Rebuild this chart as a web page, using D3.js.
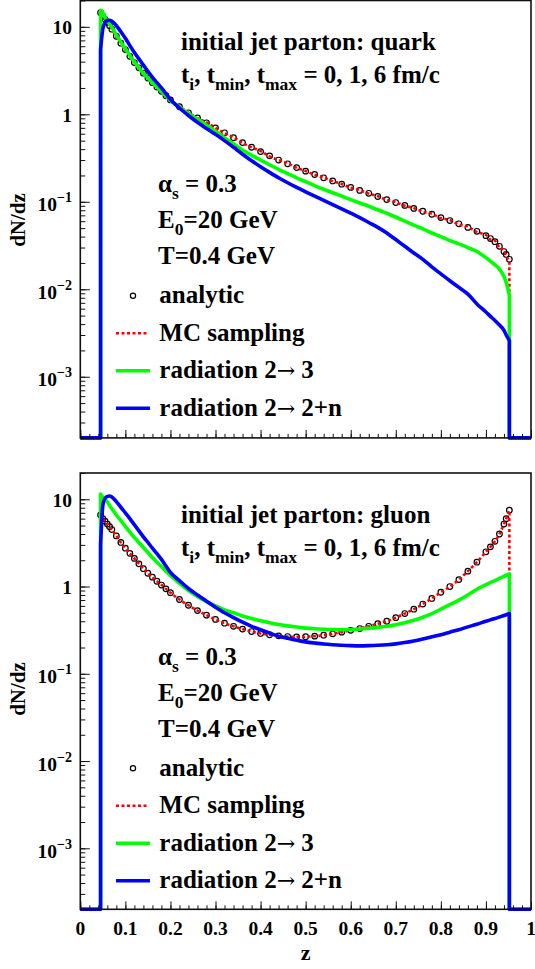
<!DOCTYPE html>
<html><head><meta charset="utf-8">
<script src="https://cdn.jsdelivr.net/npm/d3@7"></script>
<style>
body{margin:0;background:#fff}
svg{display:block}
text{font-family:"Liberation Serif","Times New Roman",serif;font-weight:bold;fill:#000}
</style>
</head><body>
<svg id="c" width="535" height="969"></svg>
<script>
// ---------------- data ----------------
const zGrid = [0.045,0.05,0.055,0.06,0.065,0.07,0.08,0.09,0.10,0.11,0.12,0.13,0.14,0.15,0.16,0.17,0.18,0.19,0.20,
  0.22,0.24,0.26,0.28,0.30,0.32,0.34,0.36,0.38,0.40,0.42,0.44,0.46,0.48,0.50,0.52,0.54,0.56,0.58,0.60,
  0.62,0.64,0.66,0.68,0.70,0.72,0.74,0.76,0.78,0.80,0.82,0.84,0.86,0.88,0.90,0.91,0.92,0.93,0.94,0.945,0.952];

const quarkAnalytic = [14.5,13.2,12.2,11.3,10.3,9.4,7.8,6.5,5.5,4.6,3.9,3.4,2.95,2.6,2.3,2.05,1.83,1.63,1.46,
  1.22,1.04,0.91,0.80,0.70,0.615,0.54,0.475,0.42,0.375,0.335,0.30,0.272,0.246,0.224,0.205,0.188,0.173,0.159,0.146,
  0.135,0.125,0.115,0.106,0.098,0.091,0.084,0.078,0.072,0.066,0.061,0.056,0.051,0.046,0.041,0.038,0.035,0.031,0.027,0.025,0.022];
const quarkMC = [14.4,13.3,12.1,11.4,10.2,9.5,7.7,6.6,5.4,4.7,3.9,3.4,2.9,2.6,2.3,2.05,1.82,1.64,1.45,
  1.23,1.04,0.90,0.81,0.70,0.61,0.545,0.47,0.42,0.38,0.33,0.30,0.275,0.245,0.225,0.204,0.19,0.172,0.16,0.145,
  0.136,0.124,0.116,0.105,0.099,0.090,0.085,0.077,0.073,0.065,0.062,0.055,0.052,0.045,0.042,0.037,0.036,0.030,0.028,0.024,0.021];
const quarkRad23 = [15.5,14.5,12.8,11.8,10.8,9.9,8.1,6.7,5.6,4.7,4.0,3.4,2.95,2.6,2.3,2.05,1.82,1.62,1.44,
  1.2,1.02,0.88,0.75,0.64,0.54,0.46,0.39,0.34,0.30,0.265,0.235,0.21,0.188,0.17,0.153,0.139,0.127,0.116,0.106,
  0.097,0.089,0.081,0.074,0.067,0.060,0.054,0.049,0.044,0.040,0.036,0.033,0.030,0.027,0.023,0.021,0.019,0.017,0.014,0.012,0.0085];
const quarkRad2n = [5.5,9.5,11.2,11.8,11.9,11.6,10.3,8.8,7.4,6.1,5.1,4.3,3.65,3.1,2.65,2.3,2.0,1.72,1.48,
  1.18,0.97,0.81,0.69,0.59,0.50,0.42,0.35,0.295,0.252,0.217,0.188,0.165,0.146,0.13,0.116,0.104,0.093,0.083,0.074,
  0.066,0.058,0.051,0.044,0.037,0.031,0.026,0.022,0.018,0.015,0.0125,0.0105,0.0088,0.0068,0.0055,0.0049,0.0044,0.0039,0.0034,0.003,0.0026];

const gluonAnalytic = [6.6,6.0,5.6,5.2,4.85,4.5,3.8,3.2,2.75,2.4,2.1,1.82,1.6,1.42,1.28,1.15,1.04,0.94,0.85,
  0.71,0.61,0.53,0.47,0.42,0.38,0.35,0.325,0.305,0.29,0.28,0.272,0.267,0.265,0.266,0.27,0.277,0.287,0.30,0.315,
  0.33,0.35,0.375,0.40,0.44,0.49,0.55,0.63,0.73,0.86,1.0,1.2,1.5,1.9,2.5,2.85,3.3,4.0,5.2,6.0,7.5];
const gluonMC = [6.5,6.1,5.5,5.2,4.8,4.5,3.8,3.2,2.76,2.4,2.1,1.83,1.6,1.42,1.27,1.15,1.05,0.94,0.85,
  0.71,0.61,0.53,0.47,0.42,0.38,0.35,0.325,0.305,0.29,0.28,0.272,0.267,0.265,0.266,0.27,0.277,0.287,0.30,0.315,
  0.33,0.35,0.375,0.40,0.44,0.49,0.55,0.63,0.73,0.86,1.0,1.2,1.5,1.9,2.5,2.85,3.3,4.0,5.2,6.0,7.4];
const gluonRad23 = [11.5,10.5,9.9,9.3,8.5,7.8,6.6,5.7,4.9,4.2,3.65,3.2,2.8,2.45,2.15,1.9,1.7,1.5,1.34,
  1.09,0.9,0.77,0.67,0.60,0.54,0.50,0.46,0.43,0.405,0.385,0.368,0.354,0.343,0.334,0.328,0.324,0.321,0.32,0.322,
  0.326,0.332,0.34,0.35,0.365,0.385,0.41,0.445,0.49,0.55,0.62,0.70,0.80,0.93,1.05,1.11,1.17,1.24,1.31,1.35,1.4];
const gluonRad2n = [3.0,8.5,10.3,10.8,10.9,10.6,9.4,8.1,7.0,6.0,5.1,4.35,3.7,3.2,2.75,2.38,2.05,1.72,1.45,
  1.17,0.95,0.80,0.68,0.58,0.50,0.44,0.39,0.35,0.32,0.292,0.27,0.255,0.242,0.232,0.225,0.219,0.215,0.212,0.21,
  0.209,0.21,0.212,0.215,0.22,0.228,0.238,0.25,0.265,0.28,0.30,0.32,0.345,0.37,0.40,0.415,0.43,0.447,0.465,0.475,0.49];

const xTickValues = [0,0.1,0.2,0.3,0.4,0.5,0.6,0.7,0.8,0.9,1];
const xTickLabels = ["0","0.1","0.2","0.3","0.4","0.5","0.6","0.7","0.8","0.9","1"];
const yDecades = [1e-3,1e-2,1e-1,1,10];
const yDecadeLabels = [["10","\u22123"],["10","\u22122"],["10","\u22121"],["1",""],["10",""]];
const yDomain = [2e-4, 20];
const zRange = [0, 1];
const legendLabels = [["analytic"],["MC sampling"],["radiation 2","\u2192"," 3"],["radiation 2","\u2192"," 2+n"]];
const partonNames = ["quark","gluon"];

// ---------------- drawing ----------------
const svg = d3.select("#c");
const X0 = 80.3, X1 = 531;
const x = d3.scaleLinear().domain(zRange).range([X0, X1]);
const panels = [
  {top:0.5, bottom:437.9, name:partonNames[0], ana:quarkAnalytic, mc:quarkMC, r23:quarkRad23, r2n:quarkRad2n},
  {top:473.0, bottom:909.3, name:partonNames[1], ana:gluonAnalytic, mc:gluonMC, r23:gluonRad23, r2n:gluonRad2n}
];
const colRed = "#ff0000", colGreen = "#00ff00", colBlue = "#0000ff";

panels.forEach((p, pi) => {
  const y = d3.scaleLog().domain(yDomain).range([p.bottom, p.top]);
  const g = svg.append("g");
  const floorY = p.bottom;

  function histPath(vals) {
    const line = d3.line().x((d,i)=>x(zGrid[i])).y(d=>y(d)).curve(d3.curveMonotoneX);
    const s = line(vals);
    const eL = x(zGrid[0]), eR = x(zGrid[zGrid.length-1]);
    return `M${x(0)},${floorY}L${eL},${floorY}L` + s.slice(1) + `L${eR},${floorY}L${x(1)},${floorY}`;
  }

  // analytic circles
  g.append("g").selectAll("circle").data(p.ana).join("circle")
    .attr("cx",(d,i)=>x(zGrid[i])).attr("cy",d=>y(d)).attr("r",2.8)
    .attr("fill","none").attr("stroke","#000").attr("stroke-width",1.2);
  // MC sampling
  g.append("path").attr("d",histPath(p.mc)).attr("fill","none").attr("stroke",colRed)
    .attr("stroke-width",2.6).attr("stroke-dasharray","3,2.5");
  // radiation 2->3
  g.append("path").attr("d",histPath(p.r23)).attr("fill","none").attr("stroke",colGreen)
    .attr("stroke-width",3.6).attr("stroke-linejoin","round");
  // radiation 2->2+n
  g.append("path").attr("d",histPath(p.r2n)).attr("fill","none").attr("stroke",colBlue)
    .attr("stroke-width",3.6).attr("stroke-linejoin","round");

  // frame
  g.append("rect").attr("x",X0).attr("y",p.top).attr("width",X1-X0).attr("height",p.bottom-p.top)
    .attr("fill","none").attr("stroke","#111").attr("stroke-width",1.6);

  // y ticks
  const yMinor = d3.axisLeft(y).tickValues(y.ticks()).tickSize(-5).tickSizeOuter(0).tickFormat("");
  const yMajor = d3.axisLeft(y).tickValues(yDecades).tickSize(-9.5).tickSizeOuter(0).tickFormat("");
  [yMinor, yMajor].forEach(ax => {
    const a = g.append("g").attr("transform",`translate(${X0},0)`).call(ax);
    a.select(".domain").remove();
    a.selectAll("line").attr("stroke","#111");
  });
  // y labels
  const yl = g.append("g").selectAll("text").data(yDecades).join("text")
    .attr("x",72).attr("text-anchor","end").attr("font-size",19.5)
    .attr("y",(d,i)=>y(d) + (yDecadeLabels[i][1] ? 9.7 : 7.5));
  yl.each(function(d,i){
    const t = d3.select(this);
    t.append("tspan").text(yDecadeLabels[i][0]);
    if (yDecadeLabels[i][1]) t.append("tspan").attr("font-size",14).attr("dy",-9).text(yDecadeLabels[i][1]);
  });

  // x ticks
  const xMinor = d3.axisBottom(x).tickValues(x.ticks(50)).tickSize(-4).tickSizeOuter(0).tickFormat("");
  const xMajor = d3.axisBottom(x).tickValues(xTickValues).tickSize(-8).tickSizeOuter(0).tickFormat("");
  [xMinor, xMajor].forEach(ax => {
    const a = g.append("g").attr("transform",`translate(0,${p.bottom})`).call(ax);
    a.select(".domain").remove();
    a.selectAll("line").attr("stroke","#111");
  });

  // y title
  g.append("text").attr("transform",`translate(25,${pi===0?220:689}) rotate(-90)`)
    .attr("text-anchor","middle").attr("font-size",21).text("dN/dz");

  // annotations
  const T = p.top - 0.5;
  const fs = 25;
  g.append("text").attr("x",181).attr("y",T+50).attr("font-size",fs).text("initial jet parton: " + p.name);
  const t2 = g.append("text").attr("x",181).attr("y",T+83.3).attr("font-size",fs);
  const sub = (el, s) => el.append("tspan").attr("font-size",17.5).attr("dy",7).text(s);
  const norm = (el, s) => el.append("tspan").attr("font-size",fs).attr("dy",-7).text(s);
  t2.append("tspan").text("t"); sub(t2,"i"); norm(t2,", t"); sub(t2,"min"); norm(t2,", t"); sub(t2,"max");
  norm(t2," = 0, 1, 6 fm/c");

  const a1 = g.append("text").attr("x",158).attr("y",T+192).attr("font-size",fs);
  a1.append("tspan").text("\u03b1"); sub(a1,"s"); norm(a1," = 0.3");
  const a2 = g.append("text").attr("x",158).attr("y",T+228.3).attr("font-size",fs);
  a2.append("tspan").text("E"); sub(a2,"0"); norm(a2,"=20 GeV");
  g.append("text").attr("x",158).attr("y",T+264.3).attr("font-size",fs).text("T=0.4 GeV");

  // legend
  const rows = [295.7, 333.3, 370.7, 408.3].map(v => v + T);
  g.append("circle").attr("cx",133).attr("cy",rows[0]).attr("r",2.6).attr("fill","none").attr("stroke","#000").attr("stroke-width",1.2);
  g.append("line").attr("x1",116).attr("x2",148).attr("y1",rows[1]).attr("y2",rows[1])
    .attr("stroke",colRed).attr("stroke-width",2.6).attr("stroke-dasharray","3,2.5");
  g.append("line").attr("x1",116).attr("x2",150).attr("y1",rows[2]).attr("y2",rows[2])
    .attr("stroke",colGreen).attr("stroke-width",3.6);
  g.append("line").attr("x1",116).attr("x2",150).attr("y1",rows[3]).attr("y2",rows[3])
    .attr("stroke",colBlue).attr("stroke-width",3.6);
  legendLabels.forEach((parts,i) => {
    const t = g.append("text").attr("x",159.3).attr("y",rows[i]+7.3).attr("font-size",fs);
    t.append("tspan").text(parts[0]);
    if (parts.length > 1) {
      t.append("tspan").attr("font-family","'DejaVu Serif'").attr("font-weight","normal").attr("font-size",22).text(parts[1]);
      t.append("tspan").text(parts[2]);
    }
  });

  if (pi === 1) {
    svg.append("g").selectAll("text").data(xTickValues).join("text")
      .attr("x",d=>x(d)).attr("y",935).attr("text-anchor","middle").attr("font-size",19.5)
      .text((d,i)=>xTickLabels[i]);
    svg.append("text").attr("x",x(0.5)).attr("y",960).attr("text-anchor","middle").attr("font-size",22).text("z");
  }
});
</script>
</body></html>
